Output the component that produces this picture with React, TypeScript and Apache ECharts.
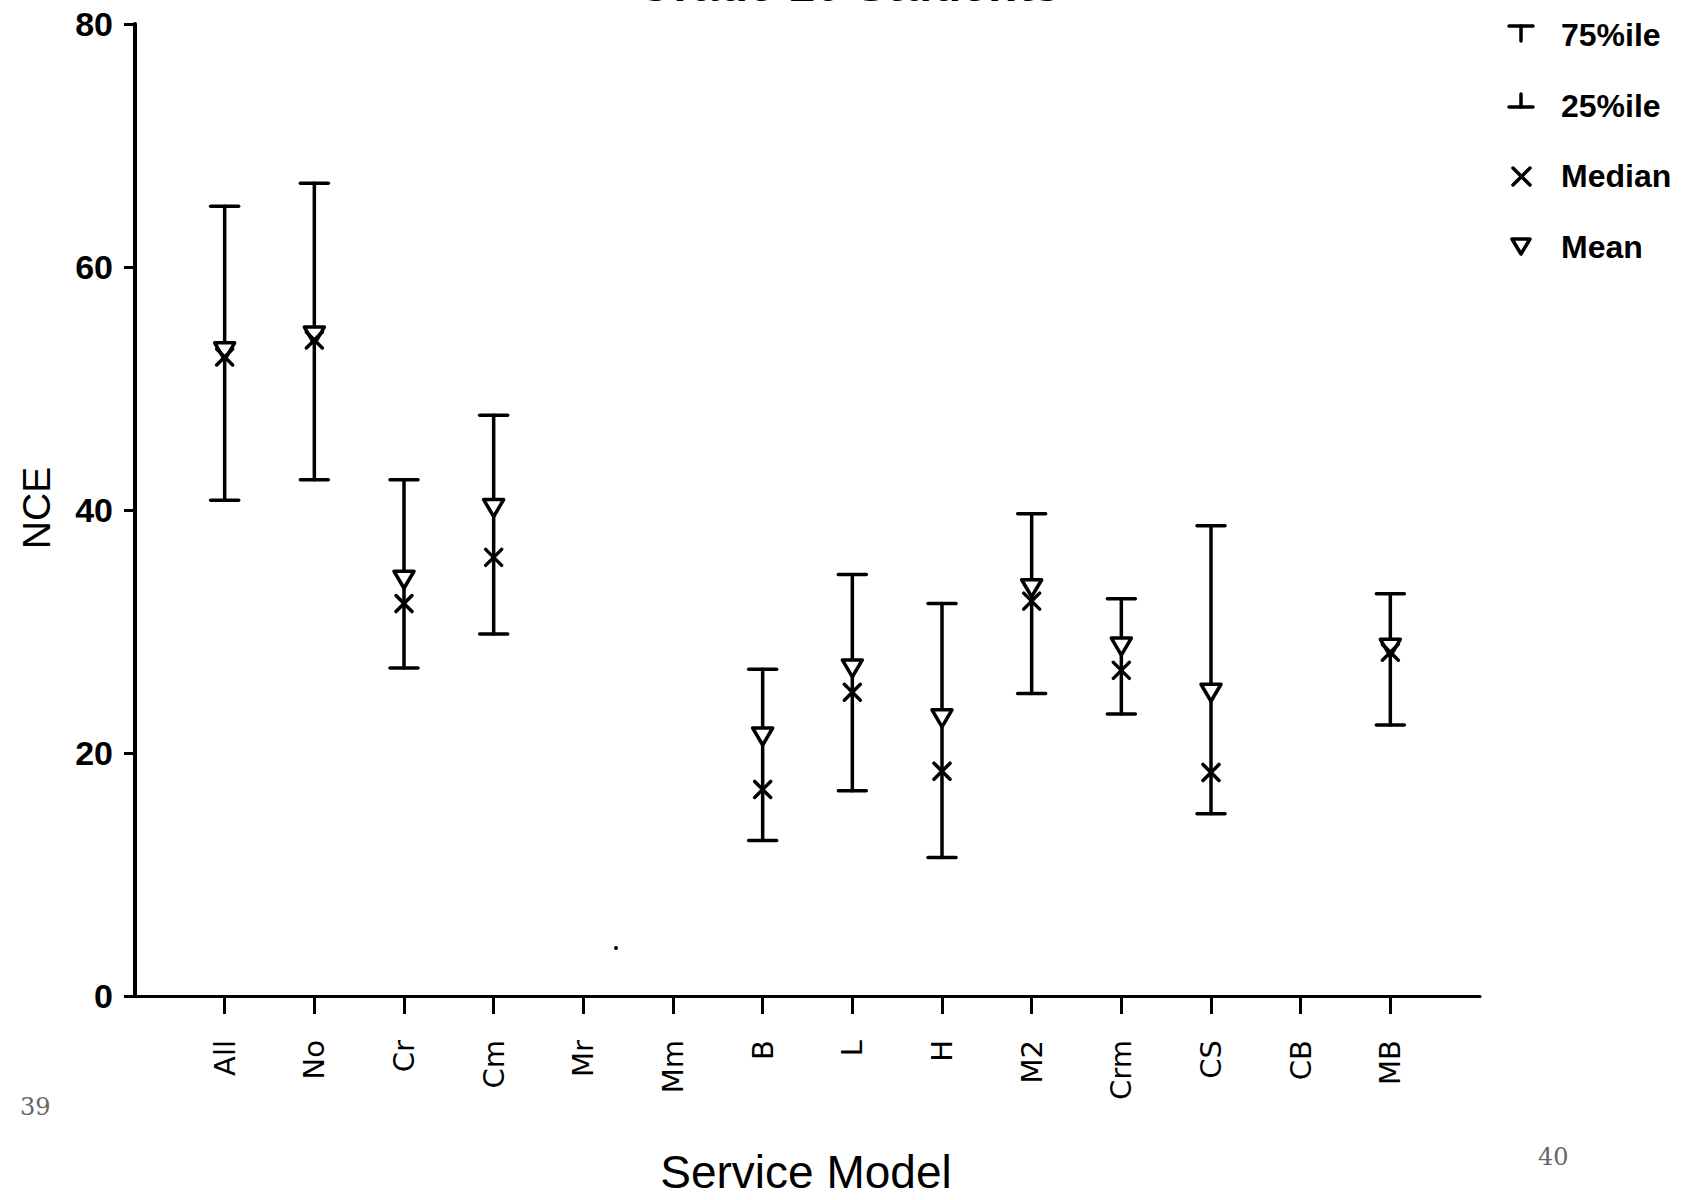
import React, { useEffect, useRef } from "react";
import * as echarts from "echarts";

const categories = ["All", "No", "Cr", "Cm", "Mr", "Mm", "B", "L", "H", "M2", "Crm", "CS", "CB", "MB"];
const p75 = [65.0, 66.9, 42.5, 47.8, null, null, 26.9, 34.7, 32.3, 39.7, 32.7, 38.7, null, 33.1];
const p25 = [40.8, 42.5, 27.0, 29.8, null, null, 12.8, 16.9, 11.4, 24.9, 23.2, 15.0, null, 22.3];
const medians = [52.6, 54.0, 32.3, 36.1, null, null, 17.0, 25.0, 18.5, 32.5, 26.8, 18.4, null, 28.3];
const means = [53.1, 54.4, 34.3, 40.2, null, null, 21.4, 27.0, 22.9, 33.6, 28.8, 25.0, null, 28.7];
const yTicks = [0, 20, 40, 60, 80];

const tickPositions = categories.map((_, i) => i + 1);

export default function App() {
  const ref = useRef<HTMLDivElement>(null);
  useEffect(() => {
    if (!ref.current) return;
    const chart = echarts.init(ref.current, null, { renderer: "svg" });

    const barData: any[] = [];
    const medData: any[] = [];
    const meanData: any[] = [];
    categories.forEach((c, i) => {
      if (p25[i] != null && p75[i] != null) barData.push([i + 1, p25[i], p75[i]]);
      if (medians[i] != null) medData.push([i + 1, medians[i]]);
      if (means[i] != null) meanData.push([i + 1, means[i]]);
    });

    const stroke = { stroke: "#000", lineWidth: 3.5, lineCap: "round" };

    const option: any = {
      animation: false,
      backgroundColor: "#fff",
      grid: { left: 135, right: 214, top: 24, bottom: 204 },
      xAxis: {
        type: "value",
        min: 0,
        max: 15,
        interval: 1,
        splitLine: { show: false },
        axisLine: { show: true, lineStyle: { color: "#000", width: 3 } },
        axisTick: { show: true, length: 18, customValues: tickPositions, lineStyle: { color: "#000", width: 3 } },
        axisLabel: {
          show: true,
          customValues: tickPositions,
          rotate: 90,
          margin: 44,
          color: "#000",
          fontFamily: "DejaVu Sans",
          fontSize: 29,
          formatter: (v: number) => categories[Math.round(v) - 1] ?? "",
        },
      },
      yAxis: {
        type: "value",
        min: 0,
        max: 80,
        interval: 20,
        splitLine: { show: false },
        axisLine: { show: true, lineStyle: { color: "#000", width: 4 } },
        axisTick: { show: true, length: 11, lineStyle: { color: "#000", width: 3 } },
        axisLabel: {
          show: true,
          margin: 22,
          color: "#000",
          fontFamily: "Liberation Sans",
          fontWeight: "bold",
          fontSize: 34,
          formatter: (v: number) => (yTicks.includes(v) ? String(v) : ""),
        },
      },
      series: [
        {
          name: "Range",
          type: "custom",
          data: barData,
          renderItem: (params: any, api: any) => {
            const x = api.value(0);
            const top = api.coord([x, api.value(2)]);
            const bot = api.coord([x, api.value(1)]);
            const hw = 14;
            return {
              type: "group",
              children: [
                { type: "line", shape: { x1: top[0], y1: top[1], x2: bot[0], y2: bot[1] }, style: stroke },
                { type: "line", shape: { x1: top[0] - hw, y1: top[1], x2: top[0] + hw, y2: top[1] }, style: stroke },
                { type: "line", shape: { x1: bot[0] - hw, y1: bot[1], x2: bot[0] + hw, y2: bot[1] }, style: stroke },
              ],
            };
          },
        },
        {
          name: "Mean",
          type: "custom",
          data: meanData,
          z: 3,
          renderItem: (params: any, api: any) => {
            const p = api.coord([api.value(0), api.value(1)]);
            return {
              type: "polygon",
              shape: { points: [[p[0] - 10, p[1] - 8], [p[0] + 10, p[1] - 8], [p[0], p[1] + 9]] },
              style: { fill: "#fff", stroke: "#000", lineWidth: 3.5, lineJoin: "round" },
            };
          },
        },
        {
          name: "Median",
          type: "custom",
          data: medData,
          z: 4,
          renderItem: (params: any, api: any) => {
            const p = api.coord([api.value(0), api.value(1)]);
            const s = 8;
            return {
              type: "group",
              children: [
                { type: "line", shape: { x1: p[0] - s, y1: p[1] - s, x2: p[0] + s, y2: p[1] + s }, style: stroke },
                { type: "line", shape: { x1: p[0] - s, y1: p[1] + s, x2: p[0] + s, y2: p[1] - s }, style: stroke },
              ],
            };
          },
        },
      ],
      graphic: [
        {
          type: "text",
          x: 848,
          y: 8,
          style: {
            text: "Grade 10 Students",
            fontFamily: "Liberation Sans",
            fontWeight: "bold",
            fontSize: 48,
            fill: "#000",
            align: "center",
            verticalAlign: "bottom",
          },
        },
        {
          type: "text",
          x: 36,
          y: 508,
          rotation: Math.PI / 2,
          style: {
            text: "NCE",
            fontFamily: "Liberation Sans",
            fontSize: 39,
            fill: "#000",
            align: "center",
            verticalAlign: "middle",
          },
        },
        {
          type: "text",
          x: 806,
          y: 1172,
          style: {
            text: "Service Model",
            fontFamily: "Liberation Sans",
            fontSize: 46,
            fill: "#000",
            align: "center",
            verticalAlign: "middle",
          },
        },
        // legend symbols
        { type: "line", shape: { x1: 1509, y1: 26, x2: 1533, y2: 26 }, style: stroke },
        { type: "line", shape: { x1: 1521, y1: 26, x2: 1521, y2: 41 }, style: stroke },
        { type: "line", shape: { x1: 1509, y1: 107, x2: 1533, y2: 107 }, style: stroke },
        { type: "line", shape: { x1: 1521, y1: 94, x2: 1521, y2: 107 }, style: stroke },
        { type: "line", shape: { x1: 1513, y1: 168, x2: 1530, y2: 185 }, style: stroke },
        { type: "line", shape: { x1: 1513, y1: 185, x2: 1530, y2: 168 }, style: stroke },
        {
          type: "polygon",
          shape: { points: [[1512, 239], [1530, 239], [1521, 254]] },
          style: { fill: "#fff", stroke: "#000", lineWidth: 3.5, lineJoin: "round" },
        },
        ...[
          ["75%ile", 35],
          ["25%ile", 106],
          ["Median", 176],
          ["Mean", 247],
        ].map(([t, y]) => ({
          type: "text",
          x: 1561,
          y: y as number,
          style: {
            text: t as string,
            fontFamily: "Liberation Sans",
            fontWeight: "bold",
            fontSize: 32,
            fill: "#000",
            align: "left",
            verticalAlign: "middle",
          },
        })),
        { type: "circle", shape: { cx: 616, cy: 948, r: 2 }, style: { fill: "#000" } },
        {
          type: "text",
          x: 20,
          y: 1107,
          style: { text: "39", fontFamily: "DejaVu Serif", fontSize: 24, fill: "#666", align: "left", verticalAlign: "middle" },
        },
        {
          type: "text",
          x: 1538,
          y: 1157,
          style: { text: "40", fontFamily: "DejaVu Serif", fontSize: 24, fill: "#666", align: "left", verticalAlign: "middle" },
        },
      ],
    };
    chart.setOption(option);
    return () => chart.dispose();
  }, []);
  return <div ref={ref} style={{ position: "fixed", left: 0, top: 0, width: 1694, height: 1200, background: "#fff" }} />;
}
